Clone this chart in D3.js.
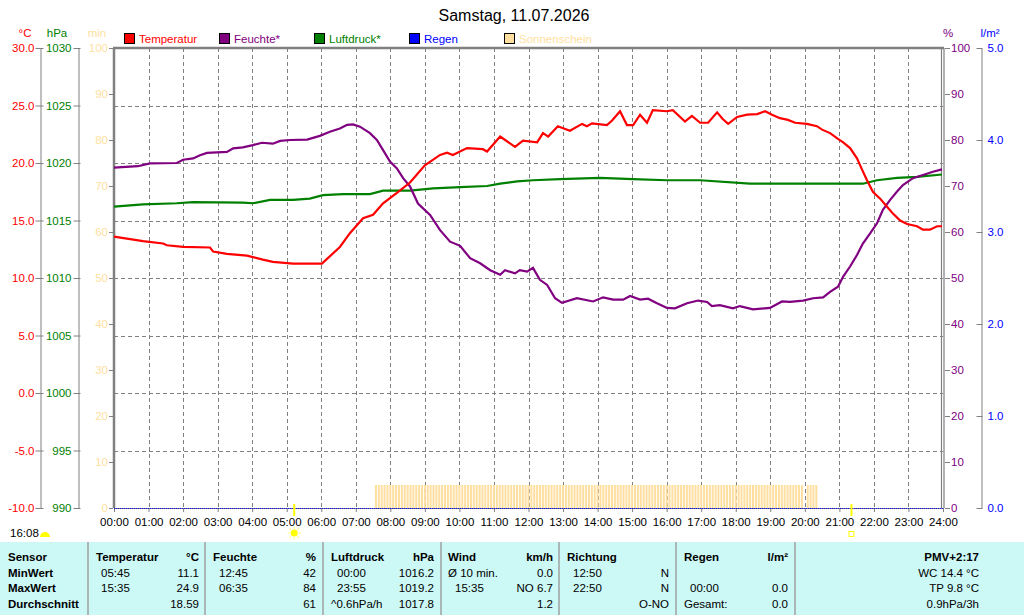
<!DOCTYPE html>
<html>
<head>
<meta charset="utf-8">
<script src="https://cdn.jsdelivr.net/npm/d3@7"></script>
<style>
  body { margin: 0; background: #fff; }
  svg text { font-family: "Liberation Sans", Arial, sans-serif; }
</style>
</head>
<body>
<svg id="chart" width="1024" height="615"></svg>
<script>

// Day values (hours since midnight)
var tempHours = [0, 0.84, 1.42, 1.53, 2.0, 2.78, 2.87, 3.27, 3.85, 4.31, 4.6, 5.18, 6.02, 6.54, 6.83, 7.21, 7.5, 7.79, 8.19, 8.57, 9.0, 9.44, 9.64, 9.81, 10.22, 10.68, 10.8, 11.18, 11.61, 11.84, 12.25, 12.42, 12.57, 12.85, 13.2, 13.55, 13.69, 13.84, 14.27, 14.42, 14.65, 14.85, 15.03, 15.23, 15.43, 15.6, 16.0, 16.18, 16.53, 16.73, 16.97, 17.2, 17.46, 17.63, 17.78, 18.04, 18.33, 18.62, 18.85, 19.05, 19.28, 19.51, 19.72, 20.06, 20.35, 20.5, 20.73, 20.96, 21.11, 21.31, 21.51, 21.66, 21.8, 21.97, 22.18, 22.38, 22.55, 22.76, 22.96, 23.25, 23.42, 23.62, 23.83, 23.97];
var tempValues = [13.6, 13.2, 13.0, 12.85, 12.7, 12.65, 12.3, 12.1, 11.95, 11.6, 11.4, 11.25, 11.25, 12.7, 13.9, 15.2, 15.5, 16.5, 17.4, 18.3, 19.8, 20.7, 20.9, 20.7, 21.3, 21.2, 21.0, 22.3, 21.4, 21.95, 21.8, 22.6, 22.3, 23.2, 22.8, 23.4, 23.2, 23.45, 23.3, 23.7, 24.5, 23.3, 23.3, 24.2, 23.5, 24.6, 24.5, 24.6, 23.6, 24.1, 23.5, 23.5, 24.4, 23.8, 23.4, 24.0, 24.2, 24.25, 24.5, 24.2, 23.9, 23.75, 23.5, 23.4, 23.2, 22.9, 22.6, 22.1, 21.8, 21.3, 20.4, 19.4, 18.5, 17.5, 16.9, 16.2, 15.6, 15.0, 14.7, 14.5, 14.2, 14.2, 14.5, 14.5];

var humHours = [0, 0.69, 1.04, 1.82, 2.0, 2.29, 2.49, 2.69, 3.27, 3.45, 3.73, 4.02, 4.28, 4.6, 4.81, 5.1, 5.59, 5.96, 6.25, 6.54, 6.75, 6.92, 7.12, 7.41, 7.61, 7.79, 7.99, 8.19, 8.37, 8.57, 8.8, 9.15, 9.44, 9.73, 10.02, 10.31, 10.6, 10.89, 11.18, 11.32, 11.61, 11.75, 11.96, 12.13, 12.33, 12.54, 12.77, 12.97, 13.4, 13.87, 14.16, 14.45, 14.74, 14.94, 15.23, 15.46, 15.72, 16.01, 16.24, 16.59, 16.91, 17.17, 17.31, 17.54, 17.92, 18.12, 18.5, 18.99, 19.34, 19.57, 19.95, 20.24, 20.53, 20.73, 20.96, 21.11, 21.31, 21.51, 21.68, 21.89, 22.09, 22.26, 22.47, 22.67, 22.84, 23.13, 23.42, 23.71, 23.97];
var humValues = [74.0, 74.3, 74.9, 75.0, 75.7, 76.0, 76.7, 77.2, 77.4, 78.2, 78.4, 78.9, 79.4, 79.2, 79.8, 80.0, 80.1, 80.9, 81.8, 82.5, 83.3, 83.4, 82.9, 81.5, 80.0, 77.8, 75.3, 73.8, 71.7, 69.9, 66.2, 63.7, 60.4, 57.9, 57.0, 54.3, 53.2, 51.7, 50.7, 51.7, 51.0, 51.7, 51.4, 52.2, 49.6, 48.5, 45.6, 44.6, 45.6, 44.9, 45.8, 45.3, 45.3, 46.1, 45.3, 45.5, 44.5, 43.5, 43.4, 44.5, 45.1, 44.8, 43.9, 44.1, 43.4, 43.9, 43.2, 43.5, 44.9, 44.8, 45.1, 45.6, 45.8, 47.0, 48.1, 50.3, 52.5, 55.0, 57.5, 59.7, 61.9, 64.8, 67.0, 68.8, 70.2, 71.7, 72.4, 73.1, 73.6];

var pressHours = [0, 0.84, 1.82, 2.29, 3.73, 4.02, 4.52, 5.18, 5.67, 6.05, 6.63, 7.41, 7.79, 8.57, 9.24, 10.02, 10.8, 11.18, 11.67, 12.13, 12.91, 14.07, 15.03, 16.01, 16.97, 18.41, 19.57, 21.68, 22.09, 22.67, 23.25, 23.97];
var pressValues = [1016.2, 1016.4, 1016.5, 1016.6, 1016.55, 1016.5, 1016.8, 1016.8, 1016.9, 1017.2, 1017.3, 1017.3, 1017.6, 1017.6, 1017.8, 1017.9, 1018.0, 1018.2, 1018.4, 1018.5, 1018.6, 1018.7, 1018.6, 1018.5, 1018.5, 1018.2, 1018.2, 1018.2, 1018.5, 1018.7, 1018.8, 1019.0];

var rainHours = [0, 24];
var rainValues = [0, 0];

// sunshine: 5 minutes of sun in every 5-minute slot of these runs
var sunRunStart = ['07:35', '20:05'];
var sunRunEnd = ['19:55', '20:20'];
var sunRunMinutes = [5, 5];

var sunrise = '05:13',
    sunset = '21:21',
    dayLength = '16:08';

// Ticks
var hourTicks = ['00:00', '01:00', '02:00', '03:00', '04:00', '05:00', '06:00', '07:00', '08:00', '09:00', '10:00', '11:00', '12:00', '13:00', '14:00', '15:00', '16:00', '17:00', '18:00', '19:00', '20:00', '21:00', '22:00', '23:00', '24:00'];
var tempTicks = [-10, -5, 0, 5, 10, 15, 20, 25, 30];
var pressTicks = [990, 995, 1000, 1005, 1010, 1015, 1020, 1025, 1030];
var pctTicks = [0, 10, 20, 30, 40, 50, 60, 70, 80, 90, 100];
var rainTicks = [0, 1, 2, 3, 4, 5];

var legendNames = ['Temperatur', 'Feuchte*', 'Luftdruck*', 'Regen', 'Sonnenschein'];
var legendColors = ['#ff0000', '#800080', '#008000', '#0000ff', '#ffdfa0'];

// Table
var rowLabels = ['Sensor', 'MinWert', 'MaxWert', 'Durchschnitt'];
var tempStats = ['Temperatur', '°C', '05:45', '11.1', '15:35', '24.9', '', '18.59'];
var humStats = ['Feuchte', '%', '12:45', '42', '06:35', '84', '', '61'];
var pressStats = ['Luftdruck', 'hPa', '00:00', '1016.2', '23:55', '1019.2', '^0.6hPa/h', '1017.8'];
var windStats = ['Wind', 'km/h', 'Ø 10 min.', '0.0', '15:35', 'NO 6.7', '', '1.2'];
var dirStats = ['Richtung', '', '12:50', 'N', '22:50', 'N', '', 'O-NO'];
var rainStats = ['Regen', 'l/m²', '', '', '00:00', '0.0', 'Gesamt:', '0.0'];
var extraStats = ['PMV+2:17', 'WC 14.4 °C', 'TP 9.8 °C', '0.9hPa/3h'];

var title = 'Samstag, 11.07.2026';

// ------------------------------------------------------------

var plotLeft = 114, plotRight = 943, plotTop = 48, plotBottom = 508;
var grey = '#808080', sunColor = '#ffdfa0';

function hrs(s){
  var p = s.split(':');
  return +p[0] + (+p[1]) / 60;
}

// plain hyphen minus, no thousands separator
function fixed1(d){ return d.toFixed(1); }
function plain(d){ return String(d); }

var svg = d3.select('#chart');

var x = d3.scaleLinear().domain([0, 24]).range([plotLeft, plotRight]);
var yT = d3.scaleLinear().domain([-10, 30]).range([plotBottom, plotTop]);
var yP = d3.scaleLinear().domain([990, 1030]).range([plotBottom, plotTop]);
var yH = d3.scaleLinear().domain([0, 100]).range([plotBottom, plotTop]);
var yMin = d3.scaleLinear().domain([0, 100]).range([plotBottom, plotTop]);
var yR = d3.scaleLinear().domain([0, 5]).range([plotBottom, plotTop]);

// Title
svg.append('text')
  .attr('x', 514)
  .attr('y', 21)
  .attr('text-anchor', 'middle')
  .style('font-size', '16px')
  .text(title);

// Unit labels
var units = [
  { t: '°C', x: 25, c: '#ff0000' },
  { t: 'hPa', x: 57, c: '#008000' },
  { t: 'min', x: 97, c: sunColor },
  { t: '%', x: 948, c: '#800080' },
  { t: 'l/m²', x: 990, c: '#0000ff' }
];
svg.selectAll('.unit')
  .data(units)
  .enter()
    .append('text')
      .attr('class', 'unit')
      .attr('x', function(d){ return d.x; })
      .attr('y', 37)
      .attr('text-anchor', 'middle')
      .attr('fill', function(d){ return d.c; })
      .style('font-size', '11.5px')
      .text(function(d){ return d.t; });

// Legend
var legend = svg.selectAll('.legend')
  .data(legendNames)
  .enter()
    .append('g')
      .attr('class', 'legend')
      .attr('transform', function(d, i){ return 'translate(' + (124 + i * 95) + ',33)'; });
legend.append('rect')
  .attr('x', 0.5).attr('y', 0.5)
  .attr('width', 10).attr('height', 10)
  .attr('fill', function(d, i){ return legendColors[i]; })
  .attr('stroke', '#000');
legend.append('text')
  .attr('x', 15)
  .attr('y', 9.5)
  .attr('fill', function(d, i){ return legendColors[i]; })
  .style('font-size', '11.5px')
  .text(function(d){ return d; });

// Grid
svg.selectAll('.vgrid')
  .data(hourTicks.slice(1, -1))
  .enter()
    .append('line')
      .attr('class', 'vgrid')
      .attr('x1', function(d){ return Math.round(x(hrs(d))) + 0.5; })
      .attr('x2', function(d){ return Math.round(x(hrs(d))) + 0.5; })
      .attr('y1', plotTop)
      .attr('y2', plotBottom)
      .attr('stroke', grey)
      .attr('stroke-dasharray', '4,3');
svg.selectAll('.hgrid')
  .data(tempTicks.slice(1, -1))
  .enter()
    .append('line')
      .attr('class', 'hgrid')
      .attr('x1', plotLeft)
      .attr('x2', plotRight)
      .attr('y1', function(d){ return Math.round(yT(d)) + 0.5; })
      .attr('y2', function(d){ return Math.round(yT(d)) + 0.5; })
      .attr('stroke', grey)
      .attr('stroke-dasharray', '4,3');

// Sunshine bars
var sunSlots = [];
sunRunStart.forEach(function(s, i){
  for (var m = hrs(s) * 60; m <= hrs(sunRunEnd[i]) * 60 + 0.01; m += 5) {
    sunSlots.push({ h: m / 60, v: sunRunMinutes[i] });
  }
});
svg.selectAll('.sun')
  .data(sunSlots)
  .enter()
    .append('rect')
      .attr('class', 'sun')
      .attr('x', function(d){ return x(d.h) - 1; })
      .attr('y', function(d){ return yMin(d.v); })
      .attr('width', 2)
      .attr('height', function(d){ return yMin(0) - yMin(d.v); })
      .attr('fill', sunColor);

// Styles an axis group
function styleAxis(g, color){
  g.attr('font-family', null).attr('font-size', null);
  g.selectAll('text').attr('fill', color).style('font-size', '11.5px');
  g.selectAll('line').attr('stroke', grey);
  g.selectAll('path').attr('stroke', grey);
}

// Left axes
var tAxis = svg.append('g')
  .attr('transform', 'translate(40.5,0)')
  .call(d3.axisLeft(yT).tickValues(tempTicks).tickFormat(fixed1).tickSize(4).tickSizeOuter(0).tickPadding(2));
styleAxis(tAxis, '#ff0000');
tAxis.selectAll('.tick line').attr('x2', -5).attr('x1', 3);

var pAxis = svg.append('g')
  .attr('transform', 'translate(78.5,0)')
  .call(d3.axisLeft(yP).tickValues(pressTicks).tickFormat(plain).tickSize(4).tickSizeOuter(0).tickPadding(3));
styleAxis(pAxis, '#008000');
pAxis.selectAll('.tick line').attr('x2', -5).attr('x1', 2);

var mAxis = svg.append('g')
  .attr('transform', 'translate(113,0)')
  .call(d3.axisLeft(yMin).tickValues(pctTicks).tickFormat(plain).tickSize(4).tickPadding(1));
styleAxis(mAxis, sunColor);
mAxis.select('.domain').remove();

// Right axes
var hAxis = svg.append('g')
  .attr('transform', 'translate(945,0)')
  .call(d3.axisRight(yH).tickValues(pctTicks).tickFormat(plain).tickSize(5).tickPadding(1));
styleAxis(hAxis, '#800080');
hAxis.select('.domain').remove();

var rAxis = svg.append('g')
  .attr('transform', 'translate(981.5,0)')
  .call(d3.axisRight(yR).tickValues(rainTicks).tickFormat(fixed1).tickSize(1).tickSizeOuter(0).tickPadding(5));
styleAxis(rAxis, '#0000ff');
rAxis.selectAll('.tick line').attr('x1', -5);

// Time axis
var xAxis = svg.append('g')
  .attr('transform', 'translate(0,' + plotBottom + ')')
  .call(d3.axisBottom(x).tickValues(hourTicks.map(hrs)).tickFormat(function(d, i){ return hourTicks[i]; }).tickSize(4).tickPadding(6));
styleAxis(xAxis, '#000');
xAxis.select('.domain').remove();
xAxis.selectAll('.tick line').attr('y1', 0);

// Base line + rain
svg.append('line')
  .attr('x1', plotLeft).attr('x2', plotRight)
  .attr('y1', plotBottom + 0.5).attr('y2', plotBottom + 0.5)
  .attr('stroke', grey);

function series(hours, values, y){
  return hours.map(function(h, i){ return [x(h), y(values[i])]; });
}
var line = d3.line();

svg.append('path')
  .attr('d', line(series(rainHours, rainValues, yR)))
  .attr('transform', 'translate(0,0.5)')
  .attr('fill', 'none')
  .attr('stroke', '#0000ff')
  .attr('stroke-dasharray', '1,1');

// Frame
svg.append('line').attr('x1', plotLeft - 1).attr('x2', plotRight + 1).attr('y1', plotTop).attr('y2', plotTop)
  .attr('stroke', grey).attr('stroke-width', 2.5);
svg.append('line').attr('x1', plotLeft).attr('x2', plotLeft).attr('y1', plotTop).attr('y2', plotBottom)
  .attr('stroke', grey).attr('stroke-width', 2.5);
svg.append('line').attr('x1', 941.5).attr('x2', 941.5).attr('y1', plotTop).attr('y2', plotBottom)
  .attr('stroke', grey).attr('stroke-width', 1.2);
svg.append('line').attr('x1', 944).attr('x2', 944).attr('y1', plotTop).attr('y2', plotBottom)
  .attr('stroke', grey).attr('stroke-width', 1.2);

// Data lines
svg.append('path')
  .attr('d', line(series(pressHours, pressValues, yP)))
  .attr('fill', 'none').attr('stroke', '#008000').attr('stroke-width', 2.2);
svg.append('path')
  .attr('d', line(series(humHours, humValues, yH)))
  .attr('fill', 'none').attr('stroke', '#800080').attr('stroke-width', 2.2);
svg.append('path')
  .attr('d', line(series(tempHours, tempValues, yT)))
  .attr('fill', 'none').attr('stroke', '#ff0000').attr('stroke-width', 2.2);

// Sunrise / sunset markers
[sunrise, sunset].forEach(function(s){
  svg.append('rect')
    .attr('x', x(hrs(s)) - 1).attr('y', 504)
    .attr('width', 2).attr('height', 12)
    .attr('fill', '#ffff00');
});
var sx = x(hrs(sunrise));
svg.append('circle').attr('cx', sx).attr('cy', 533).attr('r', 3.5).attr('fill', '#ffff00');
d3.range(8).forEach(function(k){
  var a = k * Math.PI / 4;
  svg.append('line')
    .attr('x1', sx + Math.cos(a) * 4.5).attr('y1', 533 + Math.sin(a) * 4.5)
    .attr('x2', sx + Math.cos(a) * 6.5).attr('y2', 533 + Math.sin(a) * 6.5)
    .attr('stroke', '#ffff80').attr('stroke-width', 1.2);
});
svg.append('rect')
  .attr('x', x(hrs(sunset)) - 2.5).attr('y', 531.5)
  .attr('width', 5).attr('height', 5)
  .attr('fill', 'none').attr('stroke', '#ffff00');

// Day length
svg.append('text')
  .attr('x', 10).attr('y', 537)
  .style('font-size', '11.5px')
  .text(dayLength);
svg.append('path')
  .attr('d', 'M40,537 A5,5 0 0 1 50,537 Z')
  .attr('fill', '#ffff00');

// ---- Table
var tableTop = 542;
svg.append('rect')
  .attr('x', 0).attr('y', tableTop)
  .attr('width', 1024).attr('height', 615 - tableTop)
  .attr('fill', '#ccf8f6');

var seps = [88, 205, 323, 441, 559, 676, 795];
svg.selectAll('.sep')
  .data(seps)
  .enter()
    .append('line')
      .attr('x1', function(d){ return d; })
      .attr('x2', function(d){ return d; })
      .attr('y1', tableTop).attr('y2', 615)
      .attr('stroke', '#a0a0a0').attr('stroke-width', 1.5);

var rowY = [561, 577, 592, 608];

function cell(tx, ty, t, anchor, bold){
  svg.append('text')
    .attr('x', tx).attr('y', ty)
    .attr('text-anchor', anchor || 'start')
    .style('font-size', '11.5px')
    .style('font-weight', bold ? 'bold' : 'normal')
    .text(t);
}

rowLabels.forEach(function(t, i){ cell(8, rowY[i], t, 'start', true); });

// column: stats array, header x, row label x, special label x, value right edge
var cols = [
  [tempStats, 96, 101, 96, 199],
  [humStats, 213, 219, 213, 316],
  [pressStats, 331, 337, 331, 434],
  [windStats, 448, 455, 448, 553],
  [dirStats, 567, 573, 567, 669],
  [rainStats, 684, 690, 684, 788]
];
cols.forEach(function(c){
  var s = c[0];
  cell(c[1], rowY[0], s[0], 'start', true);
  cell(c[4], rowY[0], s[1], 'end', true);
  for (var r = 1; r < 4; r++) {
    var lab = s[r * 2], val = s[r * 2 + 1];
    var lx = /^\d\d:\d\d$/.test(lab) ? c[2] : c[3];
    cell(lx, rowY[r], lab, 'start', false);
    cell(c[4], rowY[r], val, 'end', false);
  }
});
extraStats.forEach(function(t, i){ cell(979, rowY[i], t, 'end', i === 0); });

</script>
</body>
</html>
